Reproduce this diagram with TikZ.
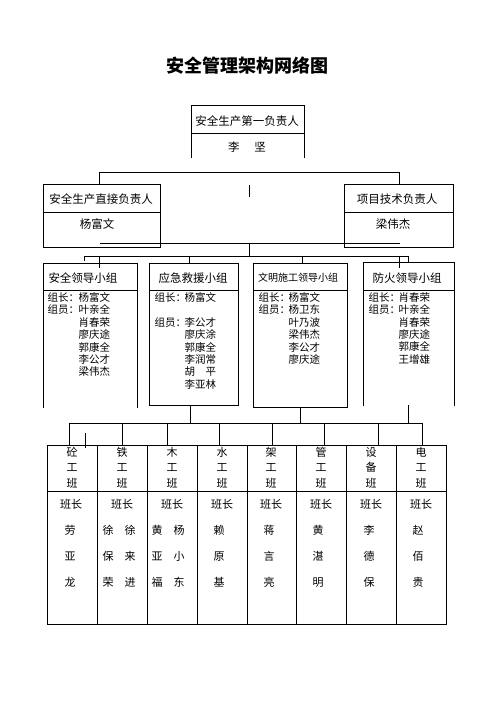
\documentclass[tikz,border=0pt]{standalone}
\usepackage{fontspec}
\newfontfamily\cjk{Noto Sans CJK SC}
\tikzset{
  txt/.style={inner sep=0pt, font=\cjk\fontsize{11.5}{13}\selectfont},
  hdr/.style={inner sep=0pt, font=\cjk\fontsize{11.5}{13}\selectfont},
  grp/.style={inner sep=0pt, anchor=north west, align=left, font=\cjk\fontsize{10.5}{12.4}\selectfont},
  banhead/.style={inner sep=0pt, align=center, font=\cjk\fontsize{11}{15.5}\selectfont},
  banname/.style={inner sep=0pt, align=center, font=\cjk\fontsize{11}{26}\selectfont},
}
\begin{document}
\begin{tikzpicture}[x=1pt,y=-1pt,line width=1pt]
\useasboundingbox (0,0) rectangle (496,702);
\node[font=\cjk\bfseries\fontsize{18}{20}\selectfont] (title) at (247,66) {安全管理架构网络图};
% first leader
\draw (191,158) -- (191,105) -- (304,105) -- (304,158);
\draw (191,133) -- (304,133);
\node[txt] (first) at (247,121) {安全生产第一负责人};
\node[txt] (firstname) at (247,147) {李\hspace{1.3em}坚};
% second level
\draw (43,184) rectangle (160,247);
\draw (43,212) -- (160,212);
\node[txt] (direct) at (101,199) {安全生产直接负责人};
\node[txt] (directname) at (97,224) {杨富文};
\draw (344,184) rectangle (453,247);
\draw (344,212) -- (453,212);
\node[txt] (tech) at (397,199) {项目技术负责人};
\node[txt] (techname) at (393,224) {梁伟杰};
\coordinate (topl) at (99,172);
\coordinate (topr) at (399,172);
\coordinate (directtop) at (99,184);
\coordinate (techtop) at (399,184);
\draw (directtop) -- (topl) -- (topr) -- (techtop);
\draw (249,185) -- (249,197);
% lines to the groups
\coordinate (midl) at (100,243);
\coordinate (midr) at (400,243);
\coordinate (midc) at (249,243);
\coordinate (grpc) at (249,256);
\coordinate (grpl) at (84,256);
\coordinate (grpr) at (408,256);
\draw (midl) -- (midr);
\draw (midc) -- (grpc);
\draw (grpl) -- (grpr);
\draw (grpl) -- (84,261);
\draw (189,256) -- (189,263);
\draw (302,256) -- (302,263);
\draw (grpr) -- (408,262);
\draw (99,256) -- (99,268);
\draw (399,256) -- (399,268);
% groups
\draw (43,408) -- (43,263) -- (137,263) -- (137,408);
\draw (43,290) -- (137,290);
\node[hdr] (safe) at (83,278) {安全领导小组};
\node[grp] (safelbl) at (47,292) {组长：\\组员：};
\node[grp] (safenames) at (78,292) {杨富文\\叶亲全\\肖春荣\\廖庆途\\郭康全\\李公才\\梁伟杰};
\draw (149,263) rectangle (238,405);
\draw (149,290) -- (238,290);
\node[hdr] (rescue) at (193,278) {应急救援小组};
\node[grp] (rescuelbl) at (154,292) {组长：\\[12.4pt]组员：};
\node[grp] (rescuenames) at (184,292) {杨富文\\[12.4pt]李公才\\廖庆涂\\郭康全\\李润常\\胡\hspace{1em}平\\李亚林};
\draw (253,263) rectangle (347,407);
\draw (253,290) -- (347,290);
\node[hdr, font=\cjk\fontsize{10}{12}\selectfont] (civil) at (298,278) {文明施工领导小组};
\node[grp] (civillbl) at (258,292) {组长：\\组员：};
\node[grp] (civilnames) at (288,292) {杨富文\\杨卫东\\叶乃波\\梁伟杰\\李公才\\廖庆途};
\draw (363,406) -- (363,262) -- (454,262) -- (454,406);
\draw (363,290) -- (454,290);
\node[hdr] (fire) at (407,278) {防火领导小组};
\node[grp] (firelbl) at (368,292) {组长：\\组员：};
\node[grp] (firenames) at (398,292) {肖春荣\\叶亲全\\肖春荣\\廖庆途\\郭康全\\王增雄};
% lines to the teams
\coordinate (lowl) at (69,423);
\coordinate (lowr) at (422,423);
\draw (190,405) -- (190,423);
\draw (300,407) -- (300,423);
\draw (408,405) -- (408,423);
\draw (lowl) -- (lowr);
\draw (lowl) -- (69,445);
\draw (122,423) -- (122,445);
\draw (167,423) -- (167,445);
\draw (219,423) -- (219,445);
\draw (272,423) -- (272,445);
\draw (324,423) -- (324,445);
\draw (378,423) -- (378,445);
\draw (lowr) -- (422,445);
\draw (85,433) -- (85,448);
% teams
\draw (47,445) rectangle (446,624);
\draw (47,491) -- (446,491);
\draw (97,445) -- (97,624);
\draw (147,445) -- (147,624);
\draw (197,445) -- (197,624);
\draw (247,445) -- (247,624);
\draw (296,445) -- (296,624);
\draw (346,445) -- (346,624);
\draw (396,445) -- (396,624);
\node[banhead] (t1) at (72,467.5) {砼\\工\\班};
\node[banhead] (t2) at (122,467.5) {铁\\工\\班};
\node[banhead] (t3) at (172,467.5) {木\\工\\班};
\node[banhead] (t4) at (222,467.5) {水\\工\\班};
\node[banhead] (t5) at (271,467.5) {架\\工\\班};
\node[banhead] (t6) at (321,467.5) {管\\工\\班};
\node[banhead] (t7) at (371,467.5) {设\\备\\班};
\node[banhead] (t8) at (421,467.5) {电\\工\\班};
\node[txt, font=\cjk\fontsize{11}{13}\selectfont] (c1) at (71,504) {班长};
\node[txt, font=\cjk\fontsize{11}{13}\selectfont] (c2) at (122,504) {班长};
\node[txt, font=\cjk\fontsize{11}{13}\selectfont] (c3) at (172,504) {班长};
\node[txt, font=\cjk\fontsize{11}{13}\selectfont] (c4) at (222,504) {班长};
\node[txt, font=\cjk\fontsize{11}{13}\selectfont] (c5) at (271,504) {班长};
\node[txt, font=\cjk\fontsize{11}{13}\selectfont] (c6) at (321,504) {班长};
\node[txt, font=\cjk\fontsize{11}{13}\selectfont] (c7) at (371,504) {班长};
\node[txt, font=\cjk\fontsize{11}{13}\selectfont] (c8) at (421,504) {班长};
\node[banname] (n1) at (70,556) {劳\\亚\\龙};
\node[banname] (n2) at (119,556) {徐\hspace{1em}徐\\保\hspace{1em}来\\荣\hspace{1em}进};
\node[banname] (n3) at (168,556) {黄\hspace{1em}杨\\亚\hspace{1em}小\\福\hspace{1em}东};
\node[banname] (n4) at (219,556) {赖\\原\\基};
\node[banname] (n5) at (269,556) {蒋\\言\\亮};
\node[banname] (n6) at (318,556) {黄\\湛\\明};
\node[banname] (n7) at (369,556) {李\\德\\保};
\node[banname] (n8) at (418,556) {赵\\佰\\贵};
\end{tikzpicture}
\end{document}
